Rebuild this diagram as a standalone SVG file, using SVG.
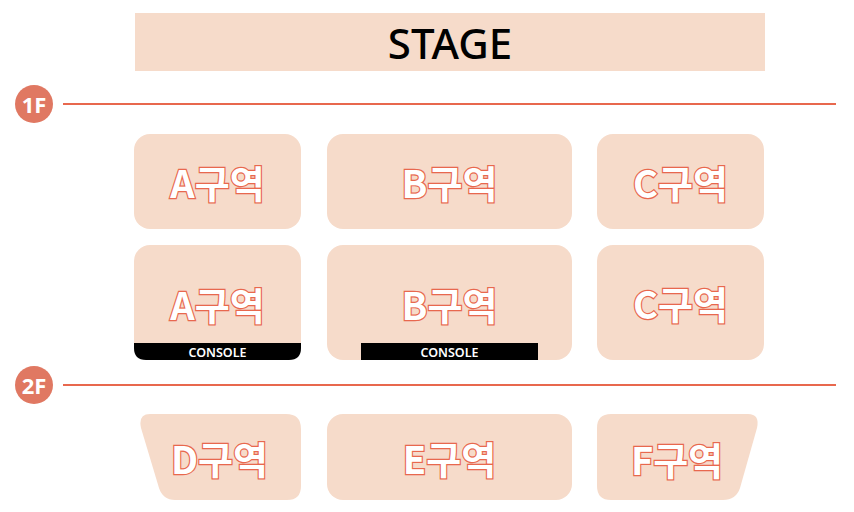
<svg xmlns="http://www.w3.org/2000/svg" width="854" height="512" viewBox="0 0 854 512">
<style>
.box{fill:#f6dbca}
.lbl{font-family:"Noto Sans CJK KR","Noto Sans",sans-serif;font-weight:700;font-size:38px;fill:#fff;stroke:#e8684e;stroke-width:2.4;paint-order:stroke;text-anchor:middle;dominant-baseline:central}
.con{font-family:"Noto Sans","Liberation Sans",sans-serif;font-weight:600;font-size:12.5px;fill:#fff;text-anchor:middle;dominant-baseline:central}
.floor{font-family:"Noto Sans","Liberation Sans",sans-serif;font-weight:700;font-size:22px;fill:#fff;text-anchor:middle;dominant-baseline:central}
.fl{stroke:#e8684e;stroke-width:2}
</style>
<g id="stage">
<rect class="box" x="135" y="13" width="630" height="58"/>
<text x="450" y="42" font-family="'Noto Sans','Liberation Sans',sans-serif" font-weight="500" font-size="42" fill="#000" text-anchor="middle" dominant-baseline="central">STAGE</text>
</g>
<g id="floors">
<line class="fl" x1="63" y1="104" x2="836" y2="104"/>
<circle cx="34" cy="104" r="19" fill="#e07862"/>
<text class="floor" x="34" y="104">1F</text>
<line class="fl" x1="63" y1="385" x2="836" y2="385"/>
<circle cx="34" cy="385" r="19" fill="#e07862"/>
<text class="floor" x="34" y="385">2F</text>
</g>
<g id="A1"><rect class="box" x="134" y="134" width="167" height="95" rx="16"/><text class="lbl" x="217.5" y="181.5">A구역</text></g>
<g id="B1"><rect class="box" x="327" y="134" width="245" height="95" rx="16"/><text class="lbl" x="449.5" y="181.5">B구역</text></g>
<g id="C1"><rect class="box" x="597" y="134" width="167" height="95" rx="16"/><text class="lbl" x="680.5" y="181.5">C구역</text></g>
<g id="A2"><rect class="box" x="134" y="245" width="167" height="115" rx="16"/>
<path d="M134 343 H301 V348 Q301 360 289 360 H146 Q134 360 134 348 Z" fill="#000"/>
<text class="con" x="217.5" y="352">CONSOLE</text>
<text class="lbl" x="217.5" y="303">A구역</text></g>
<g id="B2"><rect class="box" x="327" y="245" width="245" height="115" rx="16"/>
<rect x="361" y="343" width="177" height="17" fill="#000"/>
<text class="con" x="449.5" y="352">CONSOLE</text>
<text class="lbl" x="449.5" y="303">B구역</text></g>
<g id="C2"><rect class="box" x="597" y="245" width="167" height="115" rx="16"/><text class="lbl" x="680.5" y="302.5">C구역</text></g>
<g id="D"><path class="box" d="M150 414 H286 Q301 414 301 429 V486 Q301 500 287 500 H175 Q163 500 159 488 L141 428 Q138 414 150 414 Z"/><text class="lbl" x="219.5" y="457">D구역</text></g>
<g id="E"><rect class="box" x="327" y="414" width="245" height="86" rx="16"/><text class="lbl" x="449.5" y="457">E구역</text></g>
<g id="F"><path class="box" d="M611 414 H748 Q760 414 757 428 L740 488 Q736 500 723 500 H611 Q597 500 597 486 V428 Q597 414 611 414 Z"/><text class="lbl" x="677" y="458">F구역</text></g>
</svg>
